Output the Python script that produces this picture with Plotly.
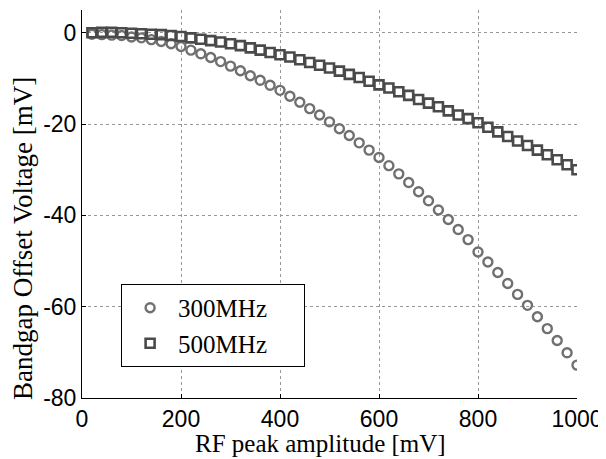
import plotly.graph_objects as go

rf_amp = list(range(20, 1001, 20))

offset_300mhz = [-0.3, -0.4, -0.5, -0.6, -0.9, -1.1, -1.5, -1.9, -2.4, -3.0,
                 -3.8, -4.6, -5.4, -6.3, -7.3, -8.3, -9.4, -10.4, -11.5, -12.6,
                 -13.9, -15.2, -16.6, -18.0, -19.5, -21.0, -22.5, -24.1, -25.7, -27.3,
                 -29.1, -30.9, -32.8, -34.8, -36.8, -38.8, -40.9, -43.1, -45.3, -48.0,
                 -50.2, -52.5, -54.9, -57.3, -59.7, -62.2, -64.8, -67.4, -70.1, -72.8]

offset_500mhz = [0.0, 0.1, 0.1, 0.0, -0.1, -0.2, -0.3, -0.4, -0.6, -0.8,
                 -1.1, -1.4, -1.7, -2.0, -2.4, -2.8, -3.3, -3.8, -4.3, -4.8,
                 -5.3, -5.9, -6.5, -7.1, -7.7, -8.4, -9.1, -9.8, -10.6, -11.4,
                 -12.1, -12.9, -13.7, -14.6, -15.4, -16.2, -17.1, -18.0, -18.8, -19.7,
                 -20.7, -21.7, -22.7, -23.7, -24.7, -25.7, -26.7, -27.8, -28.9, -30.0]

series_names = ['300MHz', '500MHz']

x_ticks = [0, 200, 400, 600, 800, 1000]
y_ticks = [0, -20, -40, -60, -80]
y_tick_text = ['0', '-20', '-40', '-60', '-80']

serif = 'Liberation Serif, Times New Roman, serif'
pad = '\u00a0' * 5  # legend box is wider than its text

fig = go.Figure()
fig.add_trace(go.Scatter(
    x=rf_amp, y=offset_300mhz, mode='markers', name=series_names[0] + pad,
    marker=dict(symbol='circle-open', size=9, color='#707070', line=dict(width=2.4)),
))
fig.add_trace(go.Scatter(
    x=rf_amp, y=offset_500mhz, mode='markers', name=series_names[1] + pad,
    marker=dict(symbol='square-open', size=9, color='#4a4a4a', line=dict(width=2.6)),
))

# page body has an 8px margin, so the figure is drawn 8px up/left
fig.update_layout(
    width=606, height=459,
    margin=dict(l=74, r=37, t=2, b=69),
    paper_bgcolor='white', plot_bgcolor='white',
    font=dict(family='Liberation Sans, Arial', color='black'),
    showlegend=True,
    legend=dict(
        x=0.079, y=0.294, xanchor='left', yanchor='top',
        bgcolor='white', bordercolor='black', borderwidth=1,
        font=dict(family=serif, size=25),
        tracegroupgap=0, itemwidth=46,
    ),
    annotations=[
        dict(text='Bandgap Offset Voltage [mV]', textangle=-90,
             xref='paper', yref='paper', x=-0.119, y=0.41,
             xanchor='center', yanchor='middle',
             showarrow=False, font=dict(family=serif, size=27)),
        dict(text='RF peak amplitude [mV]',
             xref='paper', yref='paper', x=0.481, y=-0.118,
             xanchor='center', yanchor='middle',
             showarrow=False, font=dict(family=serif, size=25)),
    ],
)
fig.update_xaxes(
    range=[0, 1000], tickvals=x_ticks, automargin=False,
    showline=True, linecolor='black', linewidth=1, mirror=False,
    ticks='inside', ticklen=4, tickcolor='black',
    showgrid=True, gridcolor='#999999', griddash='dot', gridwidth=1,
    zeroline=False, tickfont=dict(size=23),
)
fig.update_yaxes(
    range=[-80, 5], tickvals=y_ticks, ticktext=y_tick_text, automargin=False,
    showline=True, linecolor='black', linewidth=1, mirror=False,
    ticks='inside', ticklen=4, tickcolor='black',
    showgrid=True, gridcolor='#999999', griddash='dot', gridwidth=1,
    zeroline=False, tickfont=dict(size=23),
)

fig.write_html('out.html')
